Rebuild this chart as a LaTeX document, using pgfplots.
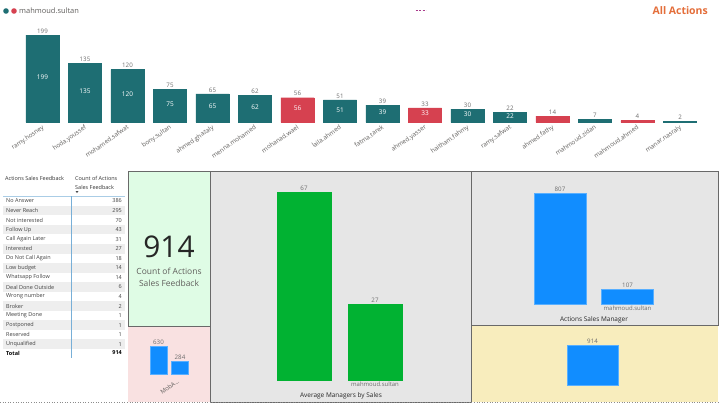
\documentclass[border=0pt]{standalone}
\usepackage{fontspec}
\setmainfont{Open Sans}
\usepackage{pgfplots}
\usepackage{pgfplotstable}
\pgfplotsset{compat=1.18}

\definecolor{pbteal}{RGB}{30,110,115}
\definecolor{pbred}{RGB}{214,65,80}
\definecolor{pbblue}{RGB}{17,141,255}
\definecolor{pbgreen}{RGB}{1,178,50}
\definecolor{labgray}{RGB}{96,94,92}
\definecolor{valgray}{RGB}{110,110,110}
\definecolor{cardgreen}{RGB}{223,252,229}
\definecolor{cardpink}{RGB}{249,225,225}
\definecolor{cardgray}{RGB}{230,230,230}
\definecolor{cardyellow}{RGB}{248,237,189}
\definecolor{edge}{RGB}{105,105,105}
\definecolor{rowgray}{RGB}{238,238,238}
\definecolor{titleorange}{RGB}{228,110,58}
\definecolor{dashpurple}{RGB}{170,60,140}
\definecolor{lineblue}{RGB}{120,175,215}
\definecolor{headline}{RGB}{170,205,230}

\newcommand\fs[1]{\fontsize{#1}{#1}\selectfont}

\pgfplotstableread{
x v
0 199
1 135
2 120
3 75
4 65
5 62
7 51
8 39
10 30
11 22
13 7
15 2
}\tealtab
\pgfplotstableread{
x v
6 56
9 33
12 14
14 4
}\redtab

\pgfplotsset{
  base/.style={scale only axis, anchor=south west, axis line style={draw=none},
    major tick length=0pt, ytick=\empty, ymin=0, enlargelimits=false, clip=false,
    /pgf/number format/assume math mode=true},
  vals/.style={nodes near coords, every node near coord/.append style={font=\fs{6.2}, text=valgray, inner sep=1.5pt}},
}

\begin{document}
\begin{tikzpicture}[x=1bp,y=1bp]
\path[use as bounding box, fill=white] (0,0) rectangle (720,404);

% header
\fill[pbteal] (6,393) circle (2.8);
\fill[pbred] (14,393) circle (2.8);
\node[anchor=west, font=\fs{7.5}, text=labgray, inner sep=0] at (19,393) {mahmoud.sultan};
\draw[dashpurple, line width=0.9, dash pattern=on 2.2bp off 1.3bp] (415.5,394) -- (426,394);
\node[anchor=east, font=\fs{10.5}\bfseries, text=titleorange, inner sep=0] at (708,393) {All Actions};

% top bar chart
\begin{axis}[base, at={(21.25bp,281.7bp)}, width=680bp, height=96.5bp,
  xmin=-0.5, xmax=15.5, ymax=220, xtick={0,...,15},
  xticklabels={ramy.hosney,hoda.youssef,mohamed.safwat,bony.sultan,ahmed.ghazaly,menna.mohamed,mohanad.wael,laila.ahmed,fatma.tarek,ahmed.yasser,haitham.fahmy,ramy.safwat,ahmed.fathy,mahmoud.zidan,mahmoud.ahmed,manar.nasraly},
  xticklabel style={rotate=35, anchor=north east, font=\fs{6.3}, text=labgray, inner sep=1pt, xshift=-1bp}]
\addplot[ybar, bar width=0.78, bar shift=0pt, fill=pbteal, draw=pbteal, vals] table[x=x, y=v] {\tealtab};
\addplot[ybar, bar width=0.78, bar shift=0pt, fill=pbred, draw=pbred, vals] table[x=x, y=v] {\redtab};
\addplot[draw=none, mark=none, nodes near coords, point meta=explicit,
  restrict expr to domain={\thisrow{v}}{20:1000},
  every node near coord/.append style={font=\fs{6.5}, text=white, yshift=-4.5bp}]
  table[x=x, y expr=\thisrow{v}/2, meta=v] {\tealtab};
\addplot[draw=none, mark=none, nodes near coords, point meta=explicit,
  restrict expr to domain={\thisrow{v}}{20:1000},
  every node near coord/.append style={font=\fs{6.5}, text=white, yshift=-4.5bp}]
  table[x=x, y expr=\thisrow{v}/2, meta=v] {\redtab};
\end{axis}

% table
\node[anchor=west, font=\fs{5.5}, text=black!80, inner sep=0] at (5,226) {Actions Sales Feedback};
\node[anchor=west, font=\fs{5.5}, text=black!80, inner sep=0] at (75,226) {Count of Actions};
\node[anchor=west, font=\fs{5.5}, text=black!80, inner sep=0] at (75,217) {Sales Feedback};
\fill[black!70] (75.5,213) -- (78.5,213) -- (77,211) -- cycle;
\foreach \n/\v [count=\i from 0] in {No Answer/386, Never Reach/295, Not interested/70, Follow Up/43,
  Call Again Later/31, Interested/27, Do Not Call Again/18, Low budget/14, Whatsapp Follow/14,
  Deal Done Outside/6, Wrong number/4, Broker/2, Meeting Done/1, Postponed/1, Reserved/1, Unqualified/1} {
  \pgfmathsetmacro\yy{203-9.55*\i}
  \ifodd\i \fill[rowgray] (3,\yy-4.78) rectangle (125,\yy+4.78); \fi
  \node[anchor=west, font=\fs{5.5}, text=black!75, inner sep=0] at (6,\yy) {\n};
  \node[anchor=east, font=\fs{5.5}, text=black!75, inner sep=0] at (122,\yy) {\v};
}
\node[anchor=west, font=\fs{5.5}\bfseries, inner sep=0] at (6,51) {Total};
\node[anchor=east, font=\fs{5.5}\bfseries, inner sep=0] at (122,51) {914};
\draw[headline, line width=0.5] (3,208) -- (125,208);
\draw[lineblue, line width=0.8] (71,208) -- (71,46);

% cards
\fill[cardgreen] (128,233) rectangle (210,78);
\fill[cardpink] (128,78) rectangle (210,2);
\fill[cardgray] (210,233) rectangle (471,2);
\fill[cardgray] (471,233) rectangle (718,79);
\fill[cardyellow] (471,79) rectangle (718,2);
\draw[edge, line width=0.8] (128,78) rectangle (210,233);
\draw[edge, line width=0.8] (210,2) rectangle (471,233);
\draw[edge, line width=0.8] (471,79) rectangle (718,233);
\draw[black!45, dotted, line width=0.6] (0,1.5) -- (720,1.5);

\node[font=\fs{30}, text=black!85] at (169,157) {914};
\node[font=\fs{8.5}, text=labgray] at (169,133) {Count of Actions};
\node[font=\fs{8.5}, text=labgray] at (169,121) {Sales Feedback};

% pink mini chart
\begin{axis}[base, at={(147.75bp,30bp)}, width=43bp, height=31.1bp,
  xmin=-0.5, xmax=1.5, ymax=700, xtick={0.5}, xticklabels={MobA.{}.{}.},
  xticklabel style={rotate=35, anchor=north east, font=\fs{6}, text=labgray, inner sep=1pt, xshift=5bp, yshift=-7bp}]
\addplot[ybar, bar width=0.79, bar shift=0pt, fill=pbblue, draw=pbblue!70!white, vals] coordinates {(0,630) (1,284)};
\end{axis}

% average managers by sales
\begin{axis}[base, at={(268.5bp,24bp)}, width=142bp, height=210.45bp,
  xmin=-0.5, xmax=1.5, ymax=75, xtick={0,1}, xticklabels={{},mahmoud.sultan},
  xticklabel style={font=\fs{6}, text=valgray, inner sep=1.5pt}]
\addplot[ybar, bar width=0.76, bar shift=0pt, fill=pbgreen, draw=pbgreen, vals] coordinates {(0,67) (1,27)};
\end{axis}
\node[font=\fs{6.5}, text=black!85] at (341,8) {Average Managers by Sales};

% actions sales manager
\begin{axis}[base, at={(526.25bp,100bp)}, width=135bp, height=123.75bp,
  xmin=-0.5, xmax=1.5, ymax=900, xtick={0,1}, xticklabels={{},mahmoud.sultan},
  xticklabel style={font=\fs{6}, text=valgray, inner sep=1.5pt}]
\addplot[ybar, bar width=0.77, bar shift=0pt, fill=pbblue, draw=pbblue!70!white, vals] coordinates {(0,807) (1,107)};
\end{axis}
\node[font=\fs{6.5}, text=black!85] at (594,84) {Actions Sales Manager};

% yellow total
\begin{axis}[base, at={(558.75bp,19bp)}, width=67.5bp, height=43.76bp,
  xmin=-0.5, xmax=0.5, ymax=1000, xtick=\empty]
\addplot[ybar, bar width=0.76, bar shift=0pt, fill=pbblue, draw=pbblue!70!white, vals] coordinates {(0,914)};
\end{axis}
\end{tikzpicture}
\end{document}
